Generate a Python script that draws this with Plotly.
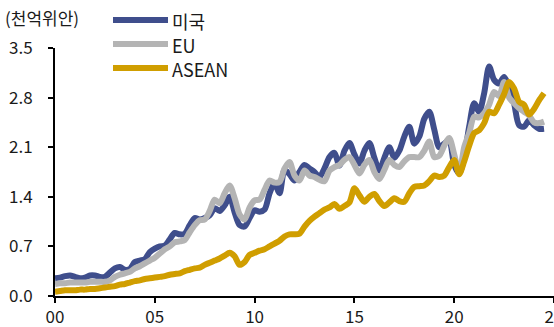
import numpy as np
import plotly.graph_objects as go

# Quarterly observations, 2000Q1 .. 2024Q3 (fractional years)
years = [2000 + 0.25 * i for i in range(99)]

us = [
    0.25, 0.26, 0.28, 0.29,
    0.27, 0.25, 0.26, 0.29,
    0.29, 0.27, 0.27, 0.33,
    0.39, 0.41, 0.37, 0.38,
    0.48, 0.50, 0.52, 0.62,
    0.67, 0.70, 0.71, 0.80,
    0.89, 0.87, 0.88, 1.00,
    1.10, 1.08, 1.10, 1.14,
    1.24, 1.20, 1.28, 1.40,
    1.18, 1.00, 0.98, 1.10,
    1.21, 1.19, 1.22, 1.45,
    1.59, 1.45, 1.78, 1.72,
    1.63, 1.75, 1.85, 1.80,
    1.75, 1.68, 1.80, 1.96,
    2.02, 1.84, 2.05, 2.16,
    2.00, 1.87, 2.05, 2.16,
    1.95, 1.77, 1.95, 2.10,
    1.95, 2.05, 2.25, 2.39,
    2.15, 2.25, 2.50, 2.60,
    2.35, 2.10, 2.15, 2.20,
    1.85, 1.73, 1.96, 2.39,
    2.72, 2.60, 2.86, 3.24,
    3.05, 3.00, 3.09, 2.95,
    2.72, 2.41, 2.39, 2.48,
    2.41, 2.36, 2.36,
]

eu = [
    0.17, 0.18, 0.18, 0.19,
    0.19, 0.19, 0.19, 0.20,
    0.20, 0.20, 0.20, 0.22,
    0.27, 0.30, 0.32, 0.34,
    0.39, 0.42, 0.46, 0.50,
    0.54, 0.60, 0.66, 0.70,
    0.76, 0.77, 0.79, 0.90,
    1.00, 1.07, 1.08, 1.20,
    1.36, 1.31, 1.45, 1.56,
    1.38, 1.15, 1.08, 1.25,
    1.35, 1.36, 1.50, 1.63,
    1.60, 1.61, 1.80, 1.89,
    1.70, 1.63, 1.77, 1.70,
    1.68, 1.64, 1.62, 1.77,
    1.82, 1.85, 1.92, 1.96,
    1.85, 1.73, 1.85, 1.92,
    1.75, 1.65, 1.78, 1.92,
    1.85, 1.82, 1.90, 1.96,
    1.96, 1.96, 2.05, 2.18,
    1.96, 1.98, 2.12, 2.23,
    2.00, 1.73, 2.10, 2.30,
    2.53, 2.52, 2.58, 2.70,
    2.88, 2.82, 3.02, 2.80,
    2.72, 2.65, 2.60, 2.55,
    2.45, 2.44, 2.46,
]

asean = [
    0.06, 0.07, 0.08, 0.08,
    0.08, 0.09, 0.09, 0.10,
    0.10, 0.11, 0.12, 0.13,
    0.14, 0.16, 0.17, 0.19,
    0.21, 0.22, 0.24, 0.25,
    0.26, 0.27, 0.28, 0.30,
    0.31, 0.32, 0.35, 0.37,
    0.39, 0.40, 0.44, 0.47,
    0.50, 0.53, 0.57, 0.61,
    0.56, 0.44, 0.48, 0.58,
    0.61, 0.64, 0.66, 0.70,
    0.74, 0.78, 0.84, 0.87,
    0.87, 0.88, 0.98, 1.06,
    1.12, 1.17, 1.22, 1.25,
    1.30, 1.23, 1.27, 1.32,
    1.52, 1.42, 1.33, 1.40,
    1.44, 1.34, 1.27, 1.32,
    1.38, 1.34, 1.33, 1.45,
    1.54, 1.55, 1.56, 1.62,
    1.70, 1.68, 1.70, 1.82,
    1.92, 1.72, 1.90, 2.12,
    2.30, 2.34, 2.44, 2.60,
    2.58, 2.70, 2.85, 3.02,
    2.93, 2.74, 2.70, 2.56,
    2.64, 2.76, 2.86,
]

series_names = ["미국", "EU", "ASEAN"]
series_colors = ["#3f4e8c", "#b4b4b4", "#d09e00"]
x_ticks = [2000, 2005, 2010, 2015, 2020, 2025]
x_tick_labels = ["00", "05", "10", "15", "20", "25"]
y_ticks = [0.0, 0.7, 1.4, 2.1, 2.8, 3.5]

FONT = "Noto Sans CJK KR"

# plot area in pixels
PL, PR, PT, PB = 55, 554, 48, 296
PW, PH = PR - PL, PB - PT


def px_x(px):
    return (px - PL) / PW


def px_y(py):
    return (PB - py) / PH


fig = go.Figure()
for name, vals, color in zip(series_names, [us, eu, asean], series_colors):
    fig.add_trace(go.Scatter(
        x=years, y=vals, name=name, mode="lines",
        line=dict(color=color, width=6, shape="spline", smoothing=0.8),
        showlegend=False, cliponaxis=False,
    ))

# Legend drawn by hand: long thick swatches with labels to their right
legend_y = [20, 44, 68]
for name, color, ly in zip(series_names, series_colors, legend_y):
    fig.add_shape(type="line", xref="paper", yref="paper",
                  x0=px_x(113), x1=px_x(168), y0=px_y(ly), y1=px_y(ly),
                  line=dict(color=color, width=6))
    fig.add_annotation(xref="paper", yref="paper", x=px_x(170), y=px_y(ly + 1),
                       text=name, showarrow=False, xanchor="left", yanchor="middle",
                       font=dict(family=FONT, size=18, color="#1a1a1a"))

fig.add_annotation(xref="paper", yref="paper", x=px_x(3), y=px_y(17),
                   yanchor="middle", xanchor="left", text="(천억위안)",
                   showarrow=False, font=dict(family=FONT, size=17, color="#1a1a1a"))

fig.update_layout(
    width=554, height=327,
    margin=dict(l=PL, r=554 - PR, t=PT, b=327 - PB),
    paper_bgcolor="white", plot_bgcolor="white",
    font=dict(family=FONT, size=17, color="#1a1a1a"),
)
fig.update_xaxes(
    range=[2000, 2025], tickvals=x_ticks, ticktext=x_tick_labels,
    showgrid=False, zeroline=False, showline=True, linecolor="black", linewidth=2,
    ticks="outside", ticklen=5, tickwidth=2, tickcolor="black",
    ticklabeloverflow="allow", automargin=False, tickfont=dict(size=17),
)
fig.update_yaxes(
    range=[0, 3.5], tickvals=y_ticks, tickformat=".1f",
    showgrid=False, zeroline=False, showline=True, linecolor="black", linewidth=2,
    ticks="outside", ticklen=5, tickwidth=2, tickcolor="black",
    ticklabelstandoff=12, automargin=False, tickfont=dict(size=17),
)

fig.write_html("out.html")
